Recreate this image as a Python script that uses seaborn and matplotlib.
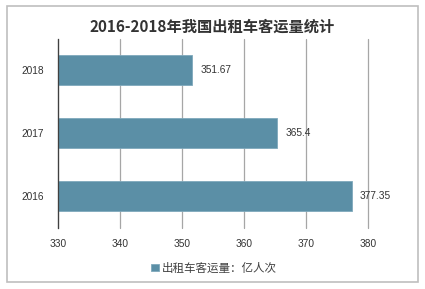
import matplotlib
matplotlib.use("Agg")
import matplotlib.pyplot as plt
import seaborn as sns
import pandas as pd
from matplotlib.patches import Rectangle

years = ["2018", "2017", "2016"]
values = [351.67, 365.4, 377.35]
value_labels = ["351.67", "365.4", "377.35"]
series_name = "出租车客运量：亿人次"
title = "2016-2018年我国出租车客运量统计"
xticks = [330, 340, 350, 360, 370, 380]

sns.set_theme(style="white")
plt.rcParams['font.family'] = ['Noto Sans CJK SC', 'DejaVu Sans']

df = pd.DataFrame({"year": years, "value": values})

fig = plt.figure(figsize=(4.25, 2.89), dpi=100)
ax = fig.add_axes([58/425, 1-227.5/289, (368-58)/425, (227.5-38.5)/289])

bar_color = "#5B8FA6"
sns.barplot(data=df, x="value", y="year", order=years, color=bar_color,
            width=0.49, ax=ax, edgecolor="#7FA9BC", linewidth=0.6,
            label=series_name, saturation=1)

num_font = ['Liberation Sans', 'DejaVu Sans']
ax.set_xlim(330, 380)
ax.set_ylim(2.5, -0.5)
ax.set_xticks(xticks)
ax.set_xticklabels([str(t) for t in xticks], fontsize=7.3, color="#333333",
                   family=num_font)
ax.set_yticklabels(years, fontsize=7.3, color="#333333", family=num_font)
ax.tick_params(axis='x', length=0, pad=8)
ax.tick_params(axis='y', length=0, pad=10)
ax.set_xlabel("")
ax.set_ylabel("")
ax.grid(axis='x', color="#A6A6A6", linewidth=0.9)
for gl in ax.get_xgridlines():
    gl.set_clip_on(False)
ax.set_axisbelow(True)
for s in ["top", "right", "bottom"]:
    ax.spines[s].set_visible(False)
ax.spines["left"].set_color("#404040")
ax.spines["left"].set_linewidth(0.9)
ax.spines["left"].set_zorder(3)

for i, (v, lab) in enumerate(zip(values, value_labels)):
    ax.annotate(lab, xy=(v, i), xytext=(6, 0), textcoords="offset points",
                va="center", ha="left", fontsize=7.3, color="#333333",
                family=num_font)

fig.text(212/425, 1-27/289, title, ha="center", va="center",
         fontsize=11, fontweight="bold", color="#333333")

leg = ax.legend(loc="center", bbox_to_anchor=(214/425, 1-268/289),
                bbox_transform=fig.transFigure, frameon=False, fontsize=8.3,
                handlelength=0.65, handleheight=0.65, handletextpad=0.3)
for t in leg.get_texts():
    t.set_color("#404040")

fig.patches.append(Rectangle((7/425, 1-282/289), (418-7)/425, (282-6)/289,
                             transform=fig.transFigure, fill=False,
                             edgecolor="#BFBFBF", linewidth=1.2))

fig.savefig("out.png", dpi=100)
